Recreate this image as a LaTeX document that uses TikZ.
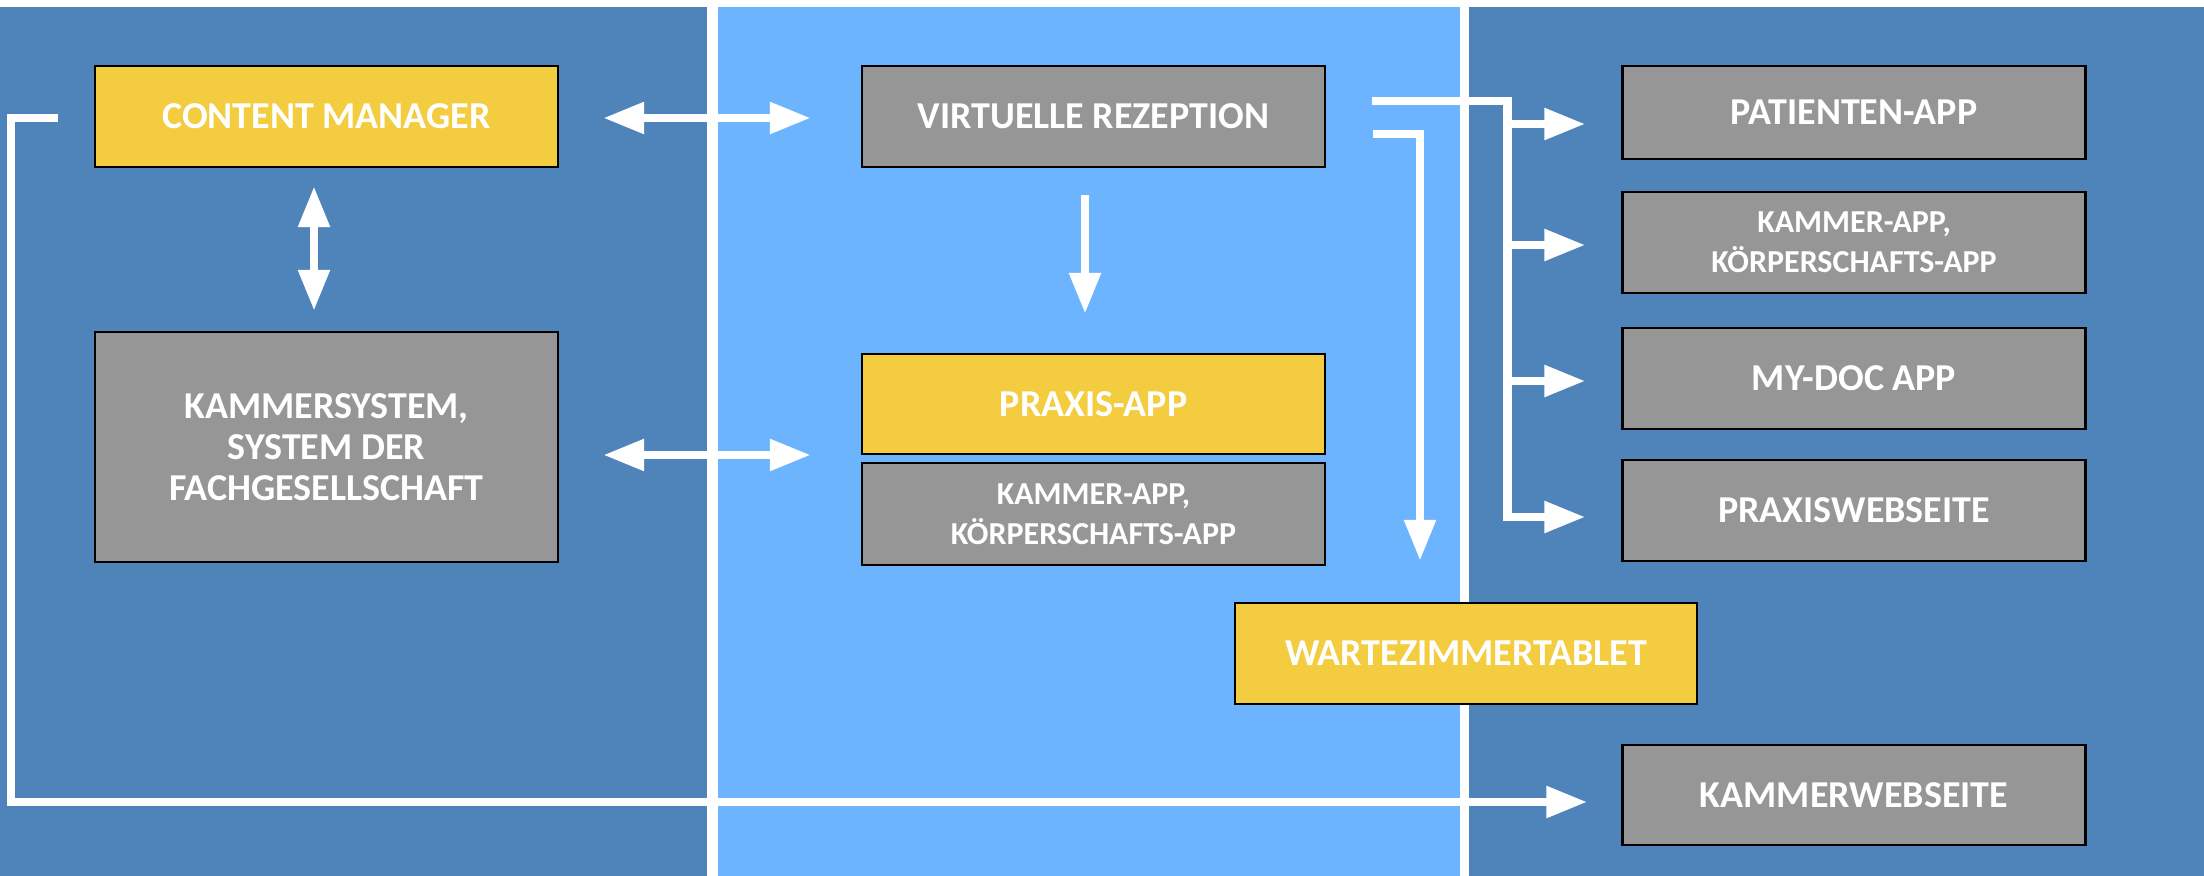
\documentclass[tikz,border=0pt]{standalone}
\usepackage{fontspec}
\setmainfont{Carlito}
\usetikzlibrary{arrows.meta,calc}
\definecolor{panelDark}{RGB}{79,132,186}
\definecolor{panelLight}{RGB}{109,180,255}
\definecolor{boxYellow}{RGB}{244,204,64}
\definecolor{boxGray}{RGB}{150,150,150}
\begin{document}
\begin{tikzpicture}[x=0.5pt,y=-0.5pt,
  box/.style={draw=black, line width=1.2pt, text=white, font=\bfseries\fontsize{19}{20.5}\selectfont, align=center, inner sep=0pt, minimum width=231.5pt},
  graybox/.style={box, fill=boxGray},
  yelbox/.style={box, fill=boxYellow},
  smalltext/.style={font=\bfseries\fontsize{16}{20}\selectfont},
  wl/.style={draw=white, line width=4.25pt},
  arr/.style={wl, -{Triangle[length=20.5pt,width=15pt]}},
  darr/.style={wl, {Triangle[length=20.5pt,width=15pt]}-{Triangle[length=20.5pt,width=15pt]}},
]
\useasboundingbox (0,0) rectangle (2204,876);
\fill[white] (0,0) rectangle (2204,876);
\fill[panelDark] (0,7) rectangle (707,876);
\fill[panelLight] (718,7) rectangle (1460,876);
\fill[panelDark] (1469,7) rectangle (2204,876);

\node[yelbox, minimum height=50.5pt] (cm) at (326.5,116.5) {CONTENT MANAGER};
\node[graybox, minimum height=115pt] (ks) at (326.5,447) {KAMMERSYSTEM,\\SYSTEM DER\\FACHGESELLSCHAFT};
\node[graybox, minimum height=50.5pt] (vr) at (1093.5,116.5) {VIRTUELLE REZEPTION};
\node[yelbox, minimum height=50pt] (pa) at (1093.5,404) {PRAXIS-APP};
\node[graybox, smalltext, minimum height=51pt] (ka1) at (1093.5,514) {KAMMER-APP,\\KÖRPERSCHAFTS-APP};
\node[yelbox, minimum width=231pt, minimum height=50.5pt] (wt) at (1466,653.5) {WARTEZIMMERTABLET};
\node[graybox, minimum height=46.5pt] (pat) at (1854,112.5) {PATIENTEN-APP};
\node[graybox, smalltext, minimum height=50.5pt] (ka2) at (1854,242.5) {KAMMER-APP,\\KÖRPERSCHAFTS-APP};
\node[graybox, minimum height=50.5pt] (md) at (1854,378.5) {MY-DOC APP};
\node[graybox, minimum height=50.5pt] (pw) at (1854,510.5) {PRAXISWEBSEITE};
\node[graybox, minimum height=50pt] (kw) at (1854,795) {KAMMERWEBSEITE};

\draw[darr] ($(cm.east)+(44,1.5)$) -- ($(vr.west)+(-50,1.5)$);
\draw[darr] ($(ks.east)+(44,8)$) -- ($(ks.east -| pa.west)+(-50,8)$);
\draw[darr] ($(cm.south)+(-12.5,18)$) -- ($(ks.north)+(-12.5,-20)$);
\draw[arr] ($(vr.south)+(-8.5,27)$) -- ($(pa.north)+(-8.5,-39)$);

\draw[arr] ($(vr.east)+(46,-15.5)$) -| ($(pw.west)+(-114,6.5)$) -- ($(pw.west)+(-36,6.5)$);
\draw[arr] ($(pat.west)+(-114,11.5)$) -- ($(pat.west)+(-36,11.5)$);
\draw[arr] ($(ka2.west)+(-114,2.5)$) -- ($(ka2.west)+(-36,2.5)$);
\draw[arr] ($(md.west)+(-114,2.5)$) -- ($(md.west)+(-36,2.5)$);

\draw[arr] ($(vr.east)+(47,17.5)$) -| ($(wt.north)+(-46,-41)$);

\draw[arr] ($(cm.west)+(-36,1.5)$) -- ++(-47,0) |- ($(kw.west)+(-34,7)$);
\end{tikzpicture}
\end{document}
